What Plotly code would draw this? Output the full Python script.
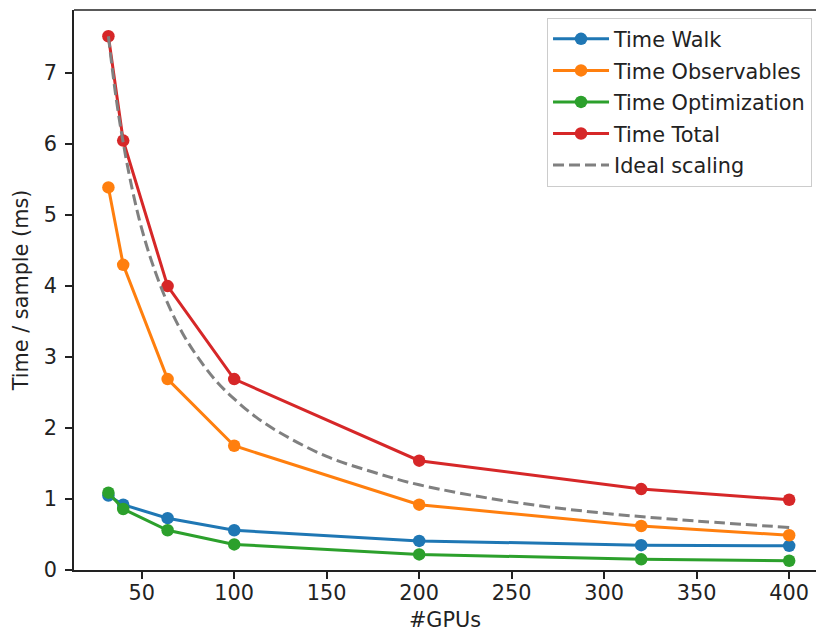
import plotly.graph_objects as go

gpus = [32, 40, 64, 100, 200, 320, 400]
time_walk = [1.05, 0.92, 0.73, 0.56, 0.41, 0.35, 0.34]
time_observables = [5.39, 4.30, 2.69, 1.75, 0.92, 0.62, 0.49]
time_optimization = [1.09, 0.86, 0.56, 0.36, 0.22, 0.15, 0.13]
time_total = [7.52, 6.05, 4.00, 2.69, 1.54, 1.14, 0.99]

ideal_x = [32, 36, 40, 45, 50, 56, 64, 72, 80, 90, 100, 112, 125, 150, 175, 200, 250, 300, 350, 400]
ideal_y = [7.52, 6.68, 6.02, 5.35, 4.81, 4.30, 3.76, 3.34, 3.01, 2.67, 2.41, 2.15, 1.93, 1.60, 1.38, 1.20, 0.96, 0.80, 0.69, 0.60]

x_ticks = [50, 100, 150, 200, 250, 300, 350, 400]
y_ticks = [0, 1, 2, 3, 4, 5, 6, 7]

FONT = "DejaVu Sans"
FS = 20.8

series = [
    ("Time Walk", time_walk, "#1f77b4"),
    ("Time Observables", time_observables, "#ff7f0e"),
    ("Time Optimization", time_optimization, "#2ca02c"),
    ("Time Total", time_total, "#d62728"),
]

fig = go.Figure()
for i, (name, vals, col) in enumerate(series):
    fig.add_trace(go.Scatter(
        x=gpus, y=vals, name=name, mode="lines+markers",
        line=dict(color=col, width=3),
        marker=dict(color=col, size=12.5),
        legendgroup=f"g{i}",
    ))
fig.add_trace(go.Scatter(
    x=ideal_x, y=ideal_y, name="Ideal scaling", mode="lines",
    line=dict(color="#808080", width=3, dash="11px,5px", shape="spline"),
    legendgroup="g4",
))

axis_common = dict(
    showline=True, linecolor="#222222", linewidth=1.5,
    ticks="outside", ticklen=7, tickwidth=1.5, tickcolor="#222222",
    showgrid=False, zeroline=False,
    tickfont=dict(family=FONT, size=FS, color="#222222"),
)

fig.update_layout(
    width=816, height=632,
    margin=dict(l=74, r=0, t=10, b=62),
    paper_bgcolor="white", plot_bgcolor="white",
    font=dict(family=FONT, size=FS, color="#222222"),
    xaxis=dict(range=[13.4, 414.5], tickvals=x_ticks, ticklabelstandoff=-4,
               title=dict(text="#GPUs", font=dict(family=FONT, size=FS), standoff=9),
               **axis_common),
    yaxis=dict(range=[0, 7.89], tickvals=y_ticks, ticklabelstandoff=4,
               title=dict(text="Time / sample (ms)", font=dict(family=FONT, size=FS), standoff=10),
               **axis_common),
    legend=dict(
        x=0.6375, y=0.986, xanchor="left", yanchor="top",
        bgcolor="rgba(255,255,255,0.8)", bordercolor="#cccccc", borderwidth=1,
        font=dict(family=FONT, size=FS, color="#222222"),
        traceorder="grouped", tracegroupgap=1.5, itemwidth=56,
    ),
    shapes=[dict(type="line", xref="paper", yref="paper", x0=0, x1=1, y0=1, y1=1,
                 line=dict(color="#222222", width=1.5))],
)

fig.write_html("out.html", config={"displayModeBar": False},
               post_script="document.body.style.margin='0';")
